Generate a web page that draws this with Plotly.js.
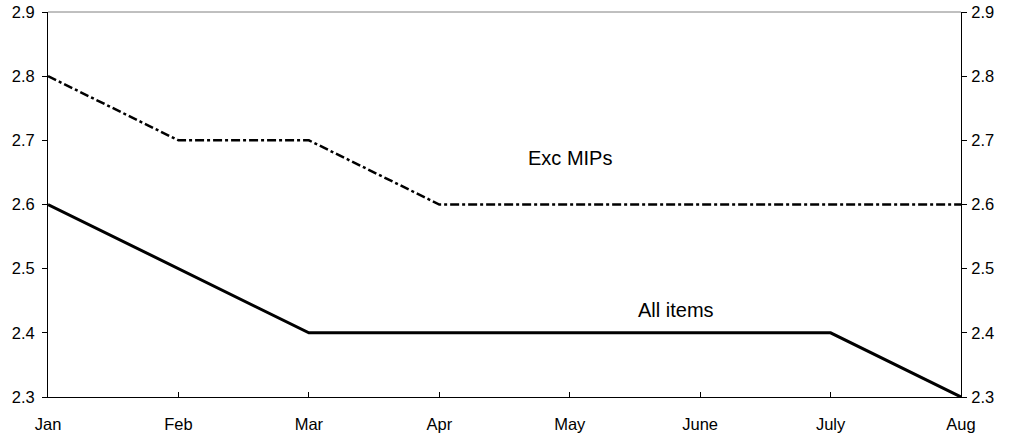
<!DOCTYPE html>
<html><head><meta charset="utf-8">
<script src="https://cdn.plot.ly/plotly-3.0.1.min.js"></script>
<style>body{margin:0;background:#fff}#c{width:1009px;height:439px}</style>
</head><body><div id="c"></div>
<script>
const months = ["Jan","Feb","Mar","Apr","May","June","July","Aug"];
const allItems = [2.6, 2.5, 2.4, 2.4, 2.4, 2.4, 2.4, 2.3];
const excMIPs = [2.8, 2.7, 2.7, 2.6, 2.6, 2.6, 2.6, 2.6];
const yTicks = [2.3, 2.4, 2.5, 2.6, 2.7, 2.8, 2.9];

const font = {family: "Liberation Sans, Arial, sans-serif", size: 16.5, color: "#000"};
const traces = [
  {x: months, y: excMIPs, mode: "lines", line: {color: "#000", width: 2.5, dash: "dashdot"}, hoverinfo: "skip"},
  {x: months, y: allItems, mode: "lines", line: {color: "#000", width: 3}, hoverinfo: "skip"},
  {x: months, y: allItems, yaxis: "y2", mode: "lines", line: {width: 0}, opacity: 0, hoverinfo: "skip"}
];
const layout = {
  width: 1009, height: 439,
  margin: {l: 48, r: 48, t: 12, b: 42},
  paper_bgcolor: "#fff", plot_bgcolor: "#fff",
  showlegend: false, font: font,
  xaxis: {type: "category", categoryorder: "array", categoryarray: months, range: [0, 7],
    showgrid: false, zeroline: false, showline: true, linecolor: "#000", linewidth: 1,
    ticks: "inside", ticklen: 5, tickcolor: "#000", tickfont: font, ticklabelstandoff: 12},
  yaxis: {range: [2.3, 2.9], tickvals: yTicks, ticktext: yTicks.map(v => v.toFixed(1)),
    showgrid: false, zeroline: false, showline: true, linecolor: "#000", linewidth: 1,
    ticks: "outside", ticklen: 5, tickcolor: "#000", tickfont: font, ticklabelstandoff: 4},
  yaxis2: {range: [2.3, 2.9], tickvals: yTicks, ticktext: yTicks.map(v => v.toFixed(1)),
    overlaying: "y", side: "right", showgrid: false, zeroline: false, showline: true,
    linecolor: "#000", linewidth: 1, ticks: "outside", ticklen: 5, tickcolor: "#000", tickfont: font,
    ticklabelstandoff: 1},
  shapes: [{type: "line", xref: "paper", yref: "paper", x0: 0, x1: 1, y0: 1, y1: 1,
    line: {color: "#808080", width: 1}}],
  annotations: [
    {x: "May", y: 2.672, xref: "x", yref: "y", text: "Exc MIPs", showarrow: false, font: {family: font.family, size: 20, color: "#000"}},
    {x: "June", y: 2.435, xref: "x", yref: "y", text: "All items", showarrow: false, font: {family: font.family, size: 20, color: "#000"}, xshift: -24}
  ]
};
Plotly.newPlot("c", traces, layout, {staticPlot: true});
</script></body></html>
